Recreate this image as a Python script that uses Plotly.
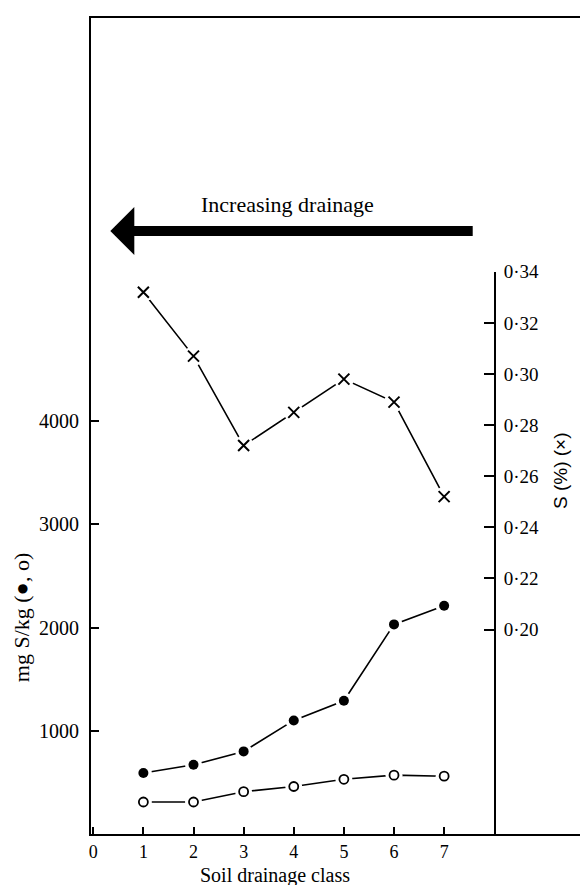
import plotly.graph_objects as go

# ---- data ----
drainage_class = [1, 2, 3, 4, 5, 6, 7]
s_filled_mg = [590, 670, 800, 1100, 1290, 2030, 2210]      # mg S/kg (filled circles)
s_open_mg = [310, 310, 410, 460, 530, 570, 560]            # mg S/kg (open circles)
s_percent = [0.332, 0.307, 0.272, 0.285, 0.298, 0.289, 0.252]  # S (%) (crosses)

x_ticks = [0, 1, 2, 3, 4, 5, 6, 7]
left_ticks = [1000, 2000, 3000, 4000]
right_ticks = [0.20, 0.22, 0.24, 0.26, 0.28, 0.30, 0.32, 0.34]
right_tick_text = ["0·20", "0·22", "0·24", "0·26", "0·28", "0·30", "0·32", "0·34"]

LEFT_RANGE = [0, 7903]
RIGHT_RANGE = [0.12, 0.34]

SERIF = "Liberation Serif"
SANS = "Liberation Sans"

fig = go.Figure()

# (values, axis for the line, overlay axis for the points, symbol, size, halo size)
series = [
    (s_percent, "y2", "y4", "x-thin", 11, 20),
    (s_filled_mg, "y", "y3", "circle", 10, 17),
    (s_open_mg, "y", "y3", "circle-open", 9, 17),
]

# connecting lines (base layers)
for vals, ax, ovl, sym, size, halo in series:
    fig.add_trace(go.Scatter(x=drainage_class, y=vals, yaxis=ax, mode="lines",
                             line=dict(color="black", width=1.6),
                             hoverinfo="skip", showlegend=False))
# white halos giving the small gaps next to each point (overlay layers, drawn above the lines)
for vals, ax, ovl, sym, size, halo in series:
    fig.add_trace(go.Scatter(x=drainage_class, y=vals, yaxis=ovl, mode="markers",
                             marker=dict(symbol="circle", size=halo, color="white",
                                         line=dict(width=0)),
                             hoverinfo="skip", showlegend=False, cliponaxis=False))
# the markers
for vals, ax, ovl, sym, size, halo in series:
    if sym == "x-thin":
        mk = dict(symbol=sym, size=size, line=dict(color="black", width=2))
    elif sym == "circle-open":
        mk = dict(symbol=sym, size=size, color="black", line=dict(color="black", width=1.8))
    else:
        mk = dict(symbol=sym, size=size, color="black", line=dict(width=0))
    fig.add_trace(go.Scatter(x=drainage_class, y=vals, yaxis=ovl, mode="markers",
                             marker=mk, showlegend=False, cliponaxis=False))

# the page body has an 8 px margin, so the figure is 8 px smaller and margins are shifted
fig.update_layout(
    width=580, height=877,
    margin=dict(l=83, r=0, t=4, b=51),
    paper_bgcolor="white", plot_bgcolor="rgba(0,0,0,0)",
    showlegend=False,
    xaxis=dict(range=[-0.045, 9.87], tickvals=x_ticks, ticks="inside", ticklen=7,
               tickwidth=2, tickcolor="black", showline=True, linewidth=2,
               linecolor="black", mirror=True, showgrid=False, zeroline=False,
               tickfont=dict(family=SERIF, size=18, color="black")),
    yaxis=dict(range=LEFT_RANGE, tickvals=left_ticks, ticks="inside", ticklen=8,
               tickwidth=2, tickcolor="black", showline=True, linewidth=2,
               linecolor="black", showgrid=False, zeroline=False,
               ticklabelstandoff=6,
               tickfont=dict(family=SERIF, size=20, color="black")),
    yaxis2=dict(range=RIGHT_RANGE, domain=[0, 0.689], anchor="free",
                position=0.8129, side="right", tickvals=right_ticks,
                ticktext=right_tick_text, ticks="inside", ticklen=10, tickwidth=2,
                tickcolor="black", showline=True, linewidth=2, linecolor="black",
                showgrid=False, zeroline=False, ticklabelstandoff=4,
                tickfont=dict(family=SERIF, size=19, color="black")),
    yaxis3=dict(range=LEFT_RANGE, overlaying="y", visible=False, showgrid=False,
                zeroline=False),
    yaxis4=dict(range=RIGHT_RANGE, overlaying="y2", visible=False, showgrid=False,
                zeroline=False, anchor="free", position=0.8129),
)

# axis titles
fig.add_annotation(text="Soil drainage class", xref="paper", yref="paper",
                   x=0.37, y=-0.051, xanchor="center", yanchor="middle",
                   borderpad=0, showarrow=False,
                   font=dict(family=SERIF, size=20, color="black"))
fig.add_annotation(text="mg S/kg (●, o)", xref="paper", yref="paper",
                   x=-0.14, y=0.265, xanchor="center", yanchor="middle",
                   textangle=-90, showarrow=False,
                   font=dict(family=SERIF, size=22, color="black"))
fig.add_annotation(text="S (%) (×)", xref="paper", yref="paper",
                   x=0.946, y=0.445, xanchor="center", yanchor="middle",
                   textangle=-90, showarrow=False,
                   font=dict(family=SANS, size=19, color="black"))

# drainage arrow with its label
fig.add_annotation(x=0.34, y=5840, ax=7.6, ay=5840, xref="x", yref="y",
                   axref="x", ayref="y", text="", showarrow=True,
                   arrowhead=1, arrowwidth=10, arrowsize=0.8, arrowcolor="black")
fig.add_annotation(text="Increasing drainage", xref="x", yref="y",
                   x=3.87, y=6100, xanchor="center", yanchor="middle",
                   showarrow=False, font=dict(family=SERIF, size=22, color="black"))

fig.write_html("out.html")
